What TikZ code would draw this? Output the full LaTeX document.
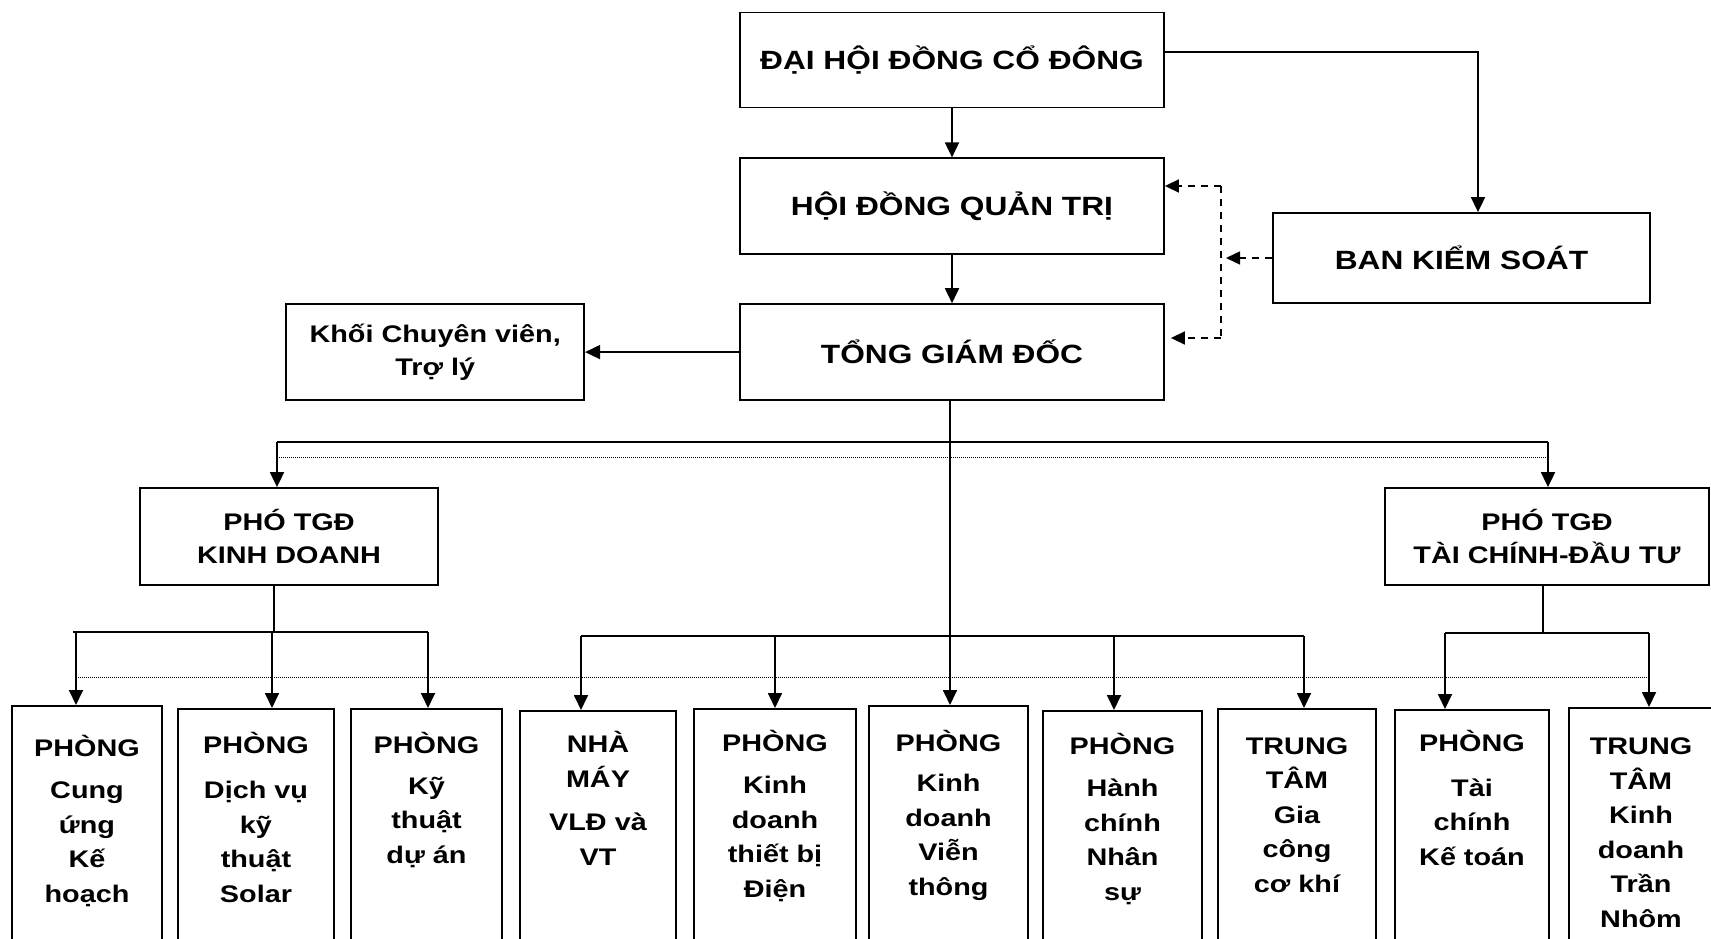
\documentclass[tikz,border=0pt]{standalone}
\usepackage{fontspec}
\setmainfont[FakeStretch=1.2]{Liberation Sans}
\usetikzlibrary{arrows.meta, positioning}

\begin{document}
\begin{tikzpicture}[
    x=1pt, y=-1pt,
    topbox/.style={
        rectangle, draw=black, line width=1.8pt, inner sep=0pt,
        align=center, font=\bfseries\fontsize{26.4}{32}\selectfont
    },
    midbox/.style={
        rectangle, draw=black, line width=1.8pt, inner sep=0pt,
        align=center, font=\bfseries\fontsize{24}{33}\selectfont
    },
    dept/.style={rectangle, draw=black, line width=1.8pt, inner sep=0pt,
                 minimum height=270, anchor=north},
    depttxt/.style={inner sep=0pt, align=center, anchor=base,
                    font=\bfseries\fontsize{24}{34.5}\selectfont},
    conn/.style={line width=1.6pt},
    arr/.style={-{Triangle[length=15pt, width=14pt]}, line width=1.8pt},
    dasharr/.style={-{Triangle[length=14pt, width=13pt]}, line width=1.5pt,
                    dash pattern=on 7pt off 6pt},
    dotline/.style={line width=1pt, dash pattern=on 1pt off 1pt}
]
\useasboundingbox (0,0) rectangle (1711,939);

% ===================================================================
% TOP LEVEL
% ===================================================================
\node[topbox, minimum width=424, minimum height=95] (dhdcd) at (952,60)
    {ĐẠI HỘI ĐỒNG CỔ ĐÔNG};
\node[topbox, minimum width=424, minimum height=96, below=49pt of dhdcd] (hdqt)
    {HỘI ĐỒNG QUẢN TRỊ};
\node[topbox, minimum width=424, minimum height=96, below=48pt of hdqt] (tgd)
    {TỔNG GIÁM ĐỐC};
\node[midbox, minimum width=298, minimum height=96, left=154pt of tgd] (khoi)
    {Khối Chuyên viên,\\Trợ lý};
\node[topbox, minimum width=377, minimum height=90] (bks) at (1461.5,258)
    {BAN KIỂM SOÁT};

\node[midbox, minimum width=298, minimum height=97] (pkd) at (289,536.5)
    {PHÓ TGĐ\\KINH DOANH};
\node[midbox, minimum width=324, minimum height=97] (ptc) at (1547,536.5)
    {PHÓ TGĐ\\TÀI CHÍNH-ĐẦU TƯ};

% ===================================================================
% DEPARTMENTS (last value: baseline of the last line)
% ===================================================================
\foreach \n/\cx/\top/\w/\txt/\last in {
    b1/87/705/150/{PHÒNG\\[8pt]Cung\\ứng\\Kế\\hoạch}/902,
    b2/256/708/156/{PHÒNG\\[11pt]Dịch vụ\\kỹ\\thuật\\Solar}/902,
    b3/426.5/708/151/{PHÒNG\\[6pt]Kỹ\\thuật\\dự án}/863,
    b4/598/710/156/{NHÀ\\MÁY\\[9pt]VLĐ và\\VT}/865,
    b5/775/708/162/{PHÒNG\\[8pt]Kinh\\doanh\\thiết bị\\Điện}/897,
    b6/948.5/705/159/{PHÒNG\\[6pt]Kinh\\doanh\\Viễn\\thông}/895,
    b7/1122.5/710/159/{PHÒNG\\[8pt]Hành\\chính\\Nhân\\sự}/900,
    b8/1297/708/158/{TRUNG\\TÂM\\Gia\\công\\cơ khí}/892,
    b9/1472/709/154/{PHÒNG\\[10pt]Tài\\chính\\Kế toán}/865,
    b10/1641/707/144/{TRUNG\\TÂM\\Kinh\\doanh\\Trần\\Nhôm}/927} {
    \node[dept, minimum width=\w] (\n) at (\cx,\top) {};
    \node[depttxt] (\n t) at (\cx,\last) {\txt};
}

% ===================================================================
% ARROWS
% ===================================================================
\draw[arr] (dhdcd) -- (hdqt);
\draw[arr] (hdqt) -- (tgd);
\draw[arr] (tgd) -- (khoi);

\coordinate (ksTurn) at (1478,52);
\draw[arr] (dhdcd.east |- ksTurn) -- (ksTurn) -- (bks.north -| ksTurn);

% control lines
\coordinate (ksTop) at (1221,186);
\coordinate (ksBot) at (1221,338);
\draw[line width=1.5pt, dash pattern=on 7pt off 6pt] (ksTop) -- (ksBot);
\draw[dasharr] (ksTop) -- (hdqt.east |- ksTop);
\draw[dasharr, shorten >=6pt] (ksBot) -- (tgd.east |- ksBot);
\draw[dasharr, shorten >=5pt] (bks.west) -- (bks.west -| ksTop);

% deputies
\coordinate (upL) at (277,442);
\coordinate (upR) at (1548,442);
\coordinate (midBus) at (950,636);
\draw[conn] (tgd.south -| midBus) -- (midBus);
\draw[conn] (upL) -- (upR);
\draw[dotline] (279,457) -- (1546,457);
\draw[arr] (upL) -- (pkd.north -| upL);
\draw[arr] (upR) -- (ptc.north -| upR);

% departments
\coordinate (kdBus) at (274,632);
\coordinate (tcBus) at (1543,633);
\draw[conn] (pkd.south -| kdBus) -- (kdBus);
\draw[conn] (ptc.south -| tcBus) -- (tcBus);
\draw[conn] (73,632) -- (428,632);
\draw[conn] (581,636) -- (1304,636);
\draw[conn] (1445,633) -- (1649,633);
\draw[dotline] (78,677) -- (1649,677);

\foreach \x/\y/\b in {76/632/b1, 272/632/b2, 428/632/b3,
                      581/636/b4, 775/636/b5, 950/636/b6, 1114/636/b7,
                      1304/636/b8, 1445/633/b9, 1649/633/b10} {
    \draw[arr] (\x,\y) -- (\b.north -| \x,0);
}

\end{tikzpicture}
\end{document}
